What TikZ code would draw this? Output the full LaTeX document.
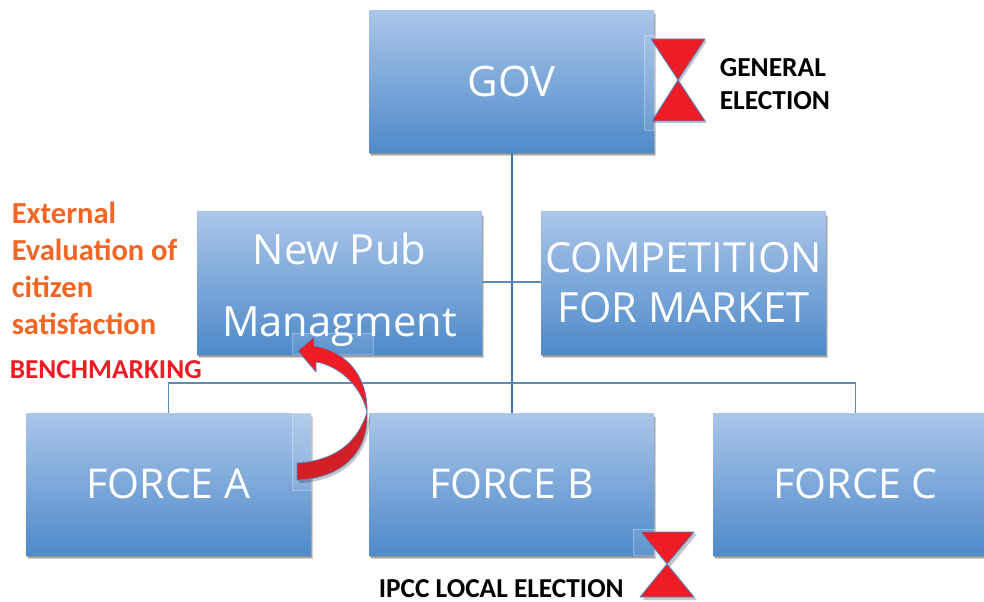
\documentclass[tikz,border=0pt]{standalone}
\usepackage{fontspec}
\setmainfont{Carlito}
\newfontfamily\boxfont{Open Sans}
\usetikzlibrary{shadows}
\definecolor{boxtop}{HTML}{ABC6E9}
\definecolor{boxbot}{HTML}{4E8AC9}
\definecolor{linkblue}{HTML}{3E76AC}
\definecolor{hourred}{HTML}{EE1C25}
\definecolor{darkred}{HTML}{D31F26}
\definecolor{orangetxt}{HTML}{F26522}
\tikzset{
  softshadow/.style={
    general shadow={fill=black,opacity=.12,shadow xshift=.3pt,shadow yshift=-1.4pt},
    general shadow={fill=black,opacity=.20,shadow xshift=.9pt,shadow yshift=-2pt},
    general shadow={fill=black,opacity=.18,shadow xshift=1.5pt,shadow yshift=-2.8pt}},
  bluebox/.style={rectangle,softshadow,inner sep=0pt,minimum width=213.75pt,minimum height=106.5pt,
    top color=boxtop,bottom color=boxbot,text=white,align=center},
  boxtxt/.style={font=\boxfont\fontsize{31.2}{54}\selectfont},
  forcetxt/.style={font=\boxfont\fontsize{30.8}{36}\selectfont},
  link/.style={draw=linkblue,line width=1.5pt},
  thin link/.style={draw=linkblue!85,line width=.8pt},
  hour/.style={fill=hourred,draw=boxbot,line width=.6pt,line join=round},
  hourshadow/.style={fill=black,opacity=.22,draw=none},
  ghost/.style={fill=white,fill opacity=.10,draw=white,draw opacity=.3,line width=.4pt},
  lab/.style={anchor=west,inner sep=0pt,font=\bfseries\fontsize{20.6}{24}\selectfont},
  orangelab/.style={lab,text=orangetxt,font=\bfseries\fontsize{22.9}{26}\selectfont},
  smallab/.style={lab,font=\bfseries\fontsize{20.5}{24}\selectfont},
}
\begin{document}
\begin{tikzpicture}[x=.75pt,y=-.75pt]
\useasboundingbox (0,0) rectangle (984,602);
\clip (0,0) rectangle (984,602);
\fill[white] (0,0) rectangle (984,602);

% boxes
\node[bluebox,font=\boxfont\fontsize{31.5}{36}\selectfont] (gov) at (511.5,81.5) {\raisebox{-.8pt}{GOV}};
\node[bluebox,boxtxt,text depth=0pt] (npm) at (339.5,283) {\raisebox{-2.6pt}{New Pub}\\\raisebox{-2.6pt}{Managment}};
\node[bluebox,font=\boxfont\fontsize{31.2}{38}\selectfont] (comp) at (683.5,283) {\raisebox{-3pt}{COMPETITION}\\\raisebox{-2.5pt}{FOR MARKET}};
\node[bluebox,forcetxt] (fa) at (168.5,484) {\raisebox{-2.5pt}{FORCE A}};
\node[bluebox,forcetxt] (fb) at (511.5,484) {\raisebox{-2.5pt}{FORCE B}};
\node[bluebox,forcetxt] (fc) at (855.5,484) {\raisebox{-2.5pt}{FORCE C}};

% connectors
\coordinate (bus) at (512,383);
\draw[link] (gov.south) -- (fb.north);
\draw[thin link] (npm.east |- 0,282) -- (comp.west |- 0,282);
\draw[thin link] (fa.north) |- (bus) -| (fc.north);

% faint selection frames
\fill[ghost] (644,35) rectangle (654,130);
\fill[ghost] (292,413) rectangle (311,490);
\fill[ghost] (292,333) rectangle (373,354);
\fill[ghost] (633,529) rectangle (654,555);

% general-election hourglass
\fill[hourshadow] (653,41) -- (707,41) -- (653,123) -- (707,123) -- cycle;
\draw[hour] (651,39) -- (705,39) -- (678,80) -- cycle;
\draw[hour] (678,80) -- (705,121) -- (652,121) -- cycle;

% local-election hourglass
\fill[hourshadow] (643,534) -- (697,534) -- (643,600) -- (697,600) -- cycle;
\draw[hour] (641,532) -- (694,532) -- (667,564) -- cycle;
\draw[hour] (667,564) -- (694,597) -- (640,597) -- cycle;

% curved arrow
\fill[black,opacity=.22] (299,465) .. controls (332,463) and (359,447) .. (370,415)
  .. controls (370,452) and (347,481) .. (299,483) -- cycle;
\draw[fill=darkred,draw=boxbot,line width=.5pt,line join=round] (297,463) .. controls (332,461) and (357,445) .. (367,412)
  .. controls (369,450) and (345,478) .. (297,480) -- cycle;
\draw[fill=hourred,draw=boxbot,line width=.5pt,line join=round] (367,412)
  .. controls (368,380) and (350,352) .. (314,346)
  -- (314,337) -- (298,351) -- (316,372) -- (316,362)
  .. controls (335,365) and (360,382) .. (367,412) -- cycle;

% labels
\node[lab] (l1) at (719.5,68) {GENERAL};
\node[lab] (l2) at (719.5,101) {ELECTION};
\node[orangelab] (e1) at (11.5,212.5) {External};
\node[orangelab] (e2) at (11.5,249.5) {Evaluation of};
\node[orangelab] (e3) at (11.5,286.5) {citizen};
\node[orangelab] (e4) at (11.5,323.5) {satisfaction};
\node[smallab,text=hourred] (bm) at (9.5,370) {BENCHMARKING};
\node[smallab] (ipcc) at (378.5,589) {IPCC LOCAL ELECTION};
\end{tikzpicture}
\end{document}
